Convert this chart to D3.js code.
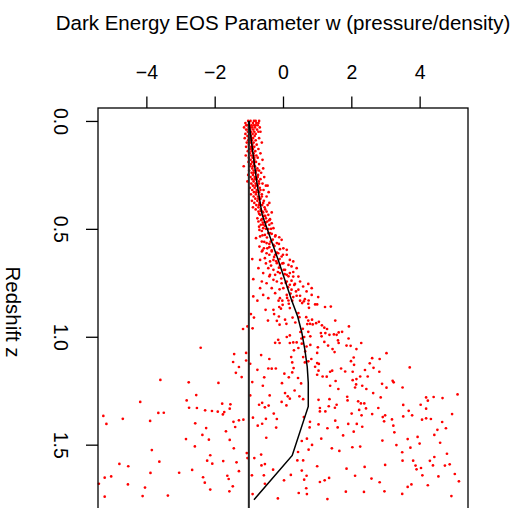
<!DOCTYPE html>
<html>
<head>
<meta charset="utf-8">
<script src="https://cdn.jsdelivr.net/npm/d3@7"></script>
<style>
  html, body { margin: 0; padding: 0; background: #fff; }
  svg { display: block; font-family: "Liberation Sans", Arial, Helvetica, sans-serif; }
</style>
</head>
<body>
<svg id="chart" width="520" height="508"></svg>
<script>
// Axis ticks
const wTicks = [-4, -2, 0, 2, 4];
const zTicks = [0, 0.5, 1.0, 1.5];

// Fitted w(z) trend, [redshift, w]
const trendZ = [0, 0.125, 0.28, 0.435, 0.64, 0.83, 0.906, 0.98, 1.06, 1.14, 1.213, 1.323, 1.55, 1.755];
const trendW = [-1, -0.90, -0.77, -0.61, -0.15, 0.25, 0.43, 0.55, 0.64, 0.71, 0.74, 0.74, 0.27, -0.85];

// Cosmological-constant reference w = -1, spanning the sampled redshifts
const lambdaW = -1;
const lambdaZ = [0, 1.9];

// Sampled models, [redshift z, w]
const samplesNear = [
  [0.00,-1.02],[0.00,-0.95],[0.01,-1.10],[0.01,-0.88],[0.01,-0.78],[0.00,-0.70],[0.02,-1.05],[0.02,-0.98],[0.02,-0.92],[0.02,-0.85],
  [0.02,-0.74],[0.03,-1.14],[0.03,-1.00],[0.03,-0.90],[0.03,-0.82],[0.03,-0.68],[0.04,-1.08],[0.04,-0.96],[0.04,-0.87],[0.04,-0.76],
  [0.05,-1.03],[0.05,-0.93],[0.05,-0.84],[0.05,-0.72],[0.06,-1.10],[0.06,-0.98],[0.06,-0.89],[0.06,-0.80],[0.01,-0.99],[0.04,-1.01],
  [0.03,-0.95],[0.05,-0.66],[0.00,-0.85],[0.02,-0.80],
  [0.07,-1.04],[0.07,-0.94],[0.07,-0.83],[0.08,-1.12],[0.08,-0.99],[0.08,-0.88],[0.08,-0.70],[0.09,-1.02],[0.09,-0.91],[0.09,-0.80],
  [0.10,-1.06],[0.10,-0.96],[0.10,-0.86],[0.10,-0.62],[0.11,-1.00],[0.11,-0.90],[0.11,-0.77],[0.12,-1.08],[0.12,-0.94],[0.12,-0.84],
  [0.13,-0.99],[0.13,-0.88],[0.13,-0.72],[0.14,-1.03],[0.14,-0.92],[0.14,-0.81],[0.15,-0.97],[0.15,-0.86],[0.15,-0.66],[0.16,-1.09],
  [0.16,-0.93],[0.16,-0.78],[0.17,-1.00],[0.17,-0.89],[0.17,-0.74],[0.18,-0.95],[0.18,-0.84],[0.18,-0.60],[0.19,-1.01],[0.19,-0.90],
  [0.19,-0.79],[0.20,-0.94],[0.20,-0.85],[0.20,-0.70],
  [0.21,-1.15],[0.21,-0.96],[0.21,-0.82],[0.22,-0.90],[0.22,-0.75],[0.22,-0.58],[0.23,-0.99],[0.23,-0.86],[0.23,-0.70],[0.24,-0.92],
  [0.24,-0.80],[0.24,-0.64],[0.25,-1.02],[0.25,-0.88],[0.25,-0.73],[0.26,-0.95],[0.26,-0.83],[0.26,-0.55],[0.27,-0.90],[0.27,-0.77],
  [0.27,-0.66],[0.28,-1.04],[0.28,-0.86],[0.28,-0.71],[0.29,-0.93],[0.29,-0.80],[0.29,-0.60],[0.30,-0.88],[0.30,-0.74],[0.30,-0.50],
  [0.31,-0.97],[0.31,-0.83],[0.31,-0.68],[0.32,-0.90],[0.32,-0.77],[0.32,-0.57],[0.33,-0.85],[0.33,-0.70],[0.34,-0.94],[0.34,-0.79],
  [0.34,-0.62],[0.35,-0.86],[0.35,-0.73],[0.35,-0.48],[0.36,-0.81],[0.36,-0.66],[0.37,-0.91],[0.37,-0.75],[0.37,-0.56],[0.38,-0.84],
  [0.38,-0.69],[0.39,-0.78],[0.39,-0.61],[0.39,-0.45],[0.40,-0.88],[0.40,-0.72],[0.40,-0.54],[0.41,-0.80],[0.41,-0.65],[0.33,-0.42],
  [0.38,-0.40],[0.30,-0.45],
  [0.05,-0.96],[0.09,-0.96],[0.13,-0.94],[0.17,-0.84],[0.21,-0.88],[0.24,-0.86],[0.27,-0.82],[0.30,-0.80],[0.33,-0.78],[0.36,-0.72],
  [0.39,-0.70],[0.42,-0.60],[0.08,-0.92],[0.12,-0.89],[0.16,-0.86],[0.19,-0.84],[0.23,-0.78],[0.26,-0.74],[0.29,-0.70],[0.32,-0.66],
  [0.35,-0.62],[0.38,-0.58],[0.41,-0.52],[0.02,-1.08],[0.00,-0.80],[0.01,-0.72]
];

const samplesMid = [
  [0.420,-0.72],[0.417,-0.65],[0.424,-0.58],[0.420,-0.48],[0.424,-0.33],[0.435,-0.67],[0.440,-0.56],[0.435,-0.43],[0.451,-0.75],[0.455,-0.62],
  [0.451,-0.50],[0.455,-0.38],[0.466,-0.72],[0.471,-0.59],[0.466,-0.46],[0.474,-0.33],[0.481,-0.65],[0.486,-0.53],[0.481,-0.40],[0.497,-0.58],
  [0.501,-0.43],[0.497,-0.28],[0.505,-0.69],[0.543,-0.79],[0.535,-0.67],[0.528,-0.53],[0.520,-0.43],[0.523,-0.33],[0.535,-0.23],[0.539,-0.11],
  [0.551,-0.04],[0.559,-0.62],[0.566,-0.48],[0.559,-0.36],[0.574,-0.28],[0.566,-0.18],[0.582,-0.69],[0.590,-0.56],[0.585,-0.40],[0.594,-0.09],
  [0.590,0.01],[0.597,0.11],[0.605,-0.62],[0.613,-0.48],[0.605,-0.33],[0.620,-0.23],[0.613,-0.14],[0.628,-0.04],[0.620,0.11],[0.644,0.20],
  [0.651,0.30],[0.640,-0.90],[0.644,-0.67],[0.636,-0.53],[0.651,-0.38],[0.644,-0.28],[0.659,-0.18],[0.667,-0.09],[0.659,0.01],[0.667,0.16],
  [0.674,0.25],[0.682,0.40],[0.682,-0.72],[0.682,-0.43],[0.690,-0.28],[0.690,0.06],[0.705,-0.58],[0.713,-0.38],[0.713,-0.23],[0.705,-0.09],
  [0.713,0.11],[0.705,0.20],[0.721,0.30],[0.721,0.45],[0.733,-0.87],[0.744,-0.62],[0.752,-0.48],[0.736,-0.28],[0.744,-0.18],[0.752,-0.04],
  [0.744,0.11],[0.759,0.20],[0.755,0.35],[0.744,0.50],[0.767,0.59],[0.755,0.74],[0.775,0.84],[0.775,-0.67],[0.775,-0.33],[0.775,0.01],
  [0.782,0.25],[0.782,0.45],[0.790,0.69],[0.813,-0.87],[0.806,-0.58],[0.821,-0.43],[0.798,-0.23],[0.821,-0.09],[0.806,0.11],[0.816,0.30],
  [0.810,0.50],[0.826,0.64],[0.806,0.84],[0.816,1.03],
  [0.43,-0.70],[0.44,-0.52],[0.46,-0.64],[0.47,-0.50],[0.48,-0.58],[0.49,-0.70],[0.50,-0.50],[0.51,-0.62],[0.52,-0.38],[0.53,-0.60],
  [0.54,-0.47],[0.55,-0.30],[0.56,-0.55],[0.57,-0.40],[0.58,-0.25],[0.59,-0.46],[0.60,-0.33],[0.61,-0.18],[0.62,-0.40],[0.63,-0.26],
  [0.64,-0.10],[0.65,-0.20],[0.66,-0.02],[0.67,-0.35],[0.68,-0.12],[0.69,0.02],[0.70,-0.15],[0.71,0.05],[0.72,0.16],[0.73,-0.05],
  [0.74,0.25],[0.75,0.08],[0.76,0.33],[0.77,0.15],[0.78,-0.10],[0.79,0.38],[0.80,0.22],[0.81,0.40],[0.82,0.12],[0.46,-0.40],
  [0.50,-0.35],[0.53,-0.22],[0.57,-0.12],[0.62,0.00],[0.70,0.30],[0.66,-0.50],[0.72,-0.40],[0.60,-0.60],
  [0.833,-0.75],[0.833,-0.13],[0.833,-0.02],[0.832,0.16],[0.833,0.27],[0.833,0.50],[0.836,0.61],[0.832,0.75],[0.852,-0.01],[0.862,-0.11],
  [0.847,0.17],[0.844,0.56],[0.847,0.74],[0.850,1.00],[0.850,0.94],[0.862,1.23],[0.860,1.40],[0.875,-0.51],[0.875,-0.28],[0.870,-0.06],
  [0.867,0.20],[0.866,0.76],[0.895,-0.94],[0.911,-0.85],[0.895,-0.26],[0.906,-0.12],[0.921,0.06],[0.911,0.28],[0.890,0.45],[0.909,0.48],
  [0.909,0.68],[0.925,0.74],[0.921,0.85],[0.931,1.05],[0.937,0.97],[0.943,0.87],[0.947,1.14],[0.964,1.29],[0.958,1.21],[0.925,1.53],
  [0.926,-0.18],[0.925,-0.44],[0.940,0.10],[0.934,0.36],[0.944,-0.10],[0.941,0.71],[0.940,0.79],[0.952,1.93],[0.952,-1.04],[0.961,-0.89],
  [0.964,-1.17],[0.963,0.58],[0.978,0.51],[0.977,0.74],[0.983,1.11],[0.983,1.24],[0.991,1.36],[0.989,1.49],[0.980,1.63],[0.977,1.73],
  [0.991,1.57],[1.017,1.61],[1.029,1.63],[1.008,1.92],[0.994,0.20],[1.001,0.11],[1.008,0.54],[1.001,0.62],[0.998,0.80],[1.014,-0.14],
  [1.029,-0.10],[1.028,-0.23],[1.026,0.40],[1.029,0.20],[1.026,0.30],[1.032,0.55],[0.998,1.13],[1.024,1.21],[1.041,1.32],[1.038,0.80],
  [1.049,1.02],[1.052,0.45],[1.063,0.32],[1.045,0.69],[1.068,0.65],[1.075,1.00],[1.041,1.86],[1.057,1.45],[1.071,1.51]
];

const samplesFar = [
  [1.075,-1.08],[1.110,-1.08],[1.085,-0.64],[1.103,-0.40],[1.094,0.24],[1.094,0.59],[1.119,0.64],[1.114,0.74],[1.103,0.83],[1.122,1.00],
  [1.139,0.94],[1.126,1.05],[1.157,1.04],[1.176,1.00],[1.184,1.16],[1.185,1.28],[1.162,1.38],[1.157,1.44],[1.147,1.70],[1.161,1.82],
  [1.187,-1.21],[1.125,-0.96],[1.210,-0.90],[1.153,-0.75],[1.147,-0.43],[1.148,-0.33],[1.147,-0.21],[1.227,-0.59],[1.188,-0.55],[1.215,-0.03],
  [1.171,0.04],[1.188,0.17],[1.165,0.27],[1.145,0.31],[1.119,0.27],[1.191,0.44],[1.216,0.53],[1.261,0.06],[1.276,0.14],[1.287,0.20],
  [1.276,0.48],[1.289,0.59],[1.249,0.34],[1.292,1.04],[1.289,1.36],[1.227,1.38],[1.205,1.54],[1.242,1.62],[1.278,1.88],[1.295,1.89],
  [1.272,-0.96],[1.315,-0.70],[1.306,-0.61],[1.327,-0.53],[1.319,-0.42],[1.272,-0.39],[1.302,-0.04],[1.318,0.10],[1.330,1.08],[1.346,1.08],
  [1.346,1.24],[1.322,1.34],[1.329,1.52],[1.315,1.57],[1.356,-0.27],[1.375,-0.88],[1.380,-0.50],[1.381,-0.18],[1.384,-1.16],[1.412,-0.74],
  [1.403,-0.61],[1.421,-0.20],[1.372,0.61],[1.394,0.79],[1.420,0.78],[1.406,1.04],[1.389,1.53],[1.424,1.30],[1.420,1.60],[1.404,1.91],
  [1.457,1.76],[1.472,0.70],[1.483,0.55],[1.501,0.85],[1.472,1.12],[1.517,1.43],[1.529,1.65],[1.468,-0.49],[1.539,-1.06],[1.562,-1.04],
  [1.562,-0.84],[1.546,-0.64],[1.523,0.75],[1.534,0.44],[1.573,0.59],[1.573,0.42],[1.596,-0.63],[1.590,-0.53],[1.616,-0.29],[1.620,0.55],
  [1.644,0.69],[1.662,0.62],[1.600,1.00],[1.642,-0.91],[1.642,-0.56],[1.681,-0.53],[1.640,0.23],[1.665,0.03],[1.673,1.08],[1.665,1.22],
  [1.654,1.35],[1.611,1.86],[1.729,-0.89],[1.724,0.46],[1.702,0.68],[1.729,0.70],[1.749,-0.15],[1.752,1.30],[1.718,1.84],
  [1.029,2.29],[1.042,1.98],[1.057,2.15],[1.096,2.07],[1.113,1.99],[1.076,3.03],[1.099,2.61],[1.103,2.83],[1.130,2.08],[1.123,2.54],
  [1.144,2.65],[1.154,2.40],[1.162,2.04],[1.162,2.82],[1.142,3.71],[1.184,2.26],[1.184,2.48],[1.196,2.15],[1.201,2.04],[1.204,3.21],
  [1.211,3.24],[1.221,2.14],[1.227,2.32],[1.235,2.11],[1.242,2.44],[1.218,2.90],[1.236,3.03],[1.235,3.50],[1.261,2.64],[1.281,2.86],
  [1.299,2.20],[1.309,2.28],[1.309,2.38],[1.339,2.23],[1.332,2.43],[1.330,2.79],[1.316,3.52],[1.315,4.03],[1.281,4.19],[1.279,4.41],
  [1.284,4.67],[1.296,4.24],[1.267,5.11],[1.333,4.19],[1.343,3.68],[1.356,2.01],[1.364,2.30],[1.358,2.61],[1.364,2.99],[1.372,2.92],
  [1.392,2.96],[1.369,3.52],[1.364,3.78],[1.384,4.07],[1.378,4.19],[1.381,4.33],[1.358,4.95],[1.383,3.19],[1.404,2.16],[1.417,2.32],
  [1.412,3.23],[1.443,3.26],[1.440,2.07],[1.395,4.66],[1.431,4.52],[1.424,4.77],[1.455,4.43],[1.464,3.94],[1.491,4.60],[1.474,3.65],
  [1.495,4.00],[1.481,2.91],[1.502,3.32],[1.514,3.73],[1.512,2.03],[1.509,2.26],[1.535,3.49],[1.542,4.80],[1.557,4.43],[1.575,4.30],
  [1.574,3.81],[1.574,3.50],[1.597,3.88],[1.608,4.04],[1.614,3.91],[1.596,4.39],[1.597,4.74],[1.591,4.88],[1.636,5.03],[1.670,5.15],
  [1.647,4.55],[1.642,4.08],[1.603,2.39],[1.594,2.99],[1.644,2.11],[1.657,2.59],[1.674,2.83],[1.716,2.97],[1.719,2.37],[1.684,3.76],
  [1.696,3.65],[1.728,3.49],[1.688,4.24],[1.738,4.93],
  [1.051,-2.41],[1.080,-1.43],[1.117,-1.46],[1.140,-1.29],[1.167,-1.38],[1.200,-3.59],[1.211,-2.76],[1.214,-1.89],[1.270,-2.54],[1.302,-4.18],
  [1.295,-2.82],[1.310,-1.78],[1.313,-1.54],[1.329,-2.75],[1.330,-2.52],[1.333,-1.56],[1.341,-2.28],[1.344,-2.08],[1.347,-1.91],[1.349,-1.72],
  [1.360,-1.76],[1.353,-3.65],[1.352,-3.49],[1.367,-5.26],[1.380,-4.69],[1.390,-3.89],[1.404,-5.17],[1.401,-2.57],[1.394,-1.45],[1.387,-1.29],
  [1.418,-1.40],[1.423,-2.25],[1.438,-1.67],[1.455,-2.36],[1.474,-2.84],[1.477,-2.17],[1.478,-1.56],[1.508,-2.58],[1.517,-1.44],[1.525,-3.84],
  [1.549,-2.13],[1.574,-2.22],[1.579,-3.62],[1.588,-2.07],[1.576,-1.75],[1.582,-1.36],[1.589,-4.79],[1.600,-4.53],[1.631,-3.88],[1.630,-3.04],
  [1.617,-2.66],[1.623,-1.29],[1.653,-5.22],[1.647,-5.03],[1.644,-1.63],[1.651,-2.34],[1.659,-1.59],[1.676,-2.29],[1.681,-5.39],[1.684,-4.54],
  [1.699,-4.04],[1.693,-1.47],[1.708,-2.13],[1.716,-1.57],[1.741,-5.22],[1.738,-4.11],[1.736,-3.37]
];

const samples = samplesNear.concat(samplesMid, samplesFar);

const svg = d3.select("#chart");
const plot = { left: 98, right: 468, top: 108, bottom: 531 };

// w runs across, redshift runs downward
const x = d3.scaleLinear().domain([-5.416, 5.416]).range([plot.left, plot.right]);
const y = d3.scaleLinear().domain([-0.06, 1.9]).range([plot.top, plot.bottom]);

const minusFmt = d => d < 0 ? "\u2212" + Math.abs(d) : String(d);

// scatter of sampled models
svg.append("g")
  .selectAll("circle")
  .data(samples)
  .join("circle")
  .attr("cx", d => x(d[1]))
  .attr("cy", d => y(d[0]))
  .attr("r", 1.35)
  .attr("fill", "#ff0000");

// w = -1 reference
svg.append("line")
  .attr("x1", x(lambdaW)).attr("x2", x(lambdaW))
  .attr("y1", y(lambdaZ[0])).attr("y2", y(lambdaZ[1]))
  .attr("stroke", "#262626")
  .attr("stroke-width", 2);

// fitted trend
const trend = d3.line().x(d => x(d[1])).y(d => y(d[0]));
svg.append("path")
  .datum(trendZ.map((z, i) => [z, trendW[i]]))
  .attr("d", trend)
  .attr("fill", "none")
  .attr("stroke", "#000")
  .attr("stroke-width", 1.5);

// frame
svg.append("rect")
  .attr("x", plot.left).attr("y", plot.top)
  .attr("width", plot.right - plot.left).attr("height", plot.bottom - plot.top)
  .attr("fill", "none").attr("stroke", "#000").attr("stroke-width", 1.3);

// top axis (w)
const topAxis = svg.append("g")
  .attr("transform", `translate(0,${plot.top})`)
  .call(d3.axisTop(x).tickValues(wTicks).tickFormat(minusFmt).tickSize(11.5).tickPadding(17.5));
topAxis.select(".domain").remove();
topAxis.selectAll("line").attr("stroke", "#000").attr("stroke-width", 1.3);
topAxis.selectAll("text")
  .attr("font-size", 19.5)
  .attr("font-family", "Liberation Sans, Arial, sans-serif")
  .attr("fill", "#000");

// left axis (redshift), labels reading downward
const leftAxis = svg.append("g")
  .attr("transform", `translate(${plot.left},0)`)
  .call(d3.axisLeft(y).tickValues(zTicks).tickFormat(d3.format(".1f")).tickSize(12));
leftAxis.select(".domain").remove();
leftAxis.selectAll("line").attr("stroke", "#000").attr("stroke-width", 1.3);
leftAxis.selectAll("text")
  .attr("x", null).attr("dy", null)
  .attr("text-anchor", "middle")
  .attr("transform", "translate(-44.5,0) rotate(90)")
  .attr("font-size", 19.5)
  .attr("font-family", "Liberation Sans, Arial, sans-serif")
  .attr("fill", "#000");

// axis titles
svg.append("text")
  .attr("x", (plot.left + plot.right) / 2)
  .attr("y", 30)
  .attr("text-anchor", "middle")
  .attr("font-size", 20.5)
  .text("Dark Energy EOS Parameter w (pressure/density)");

svg.append("text")
  .attr("transform", `translate(5.5,${(plot.top + plot.bottom) / 2 - 7.5}) rotate(90)`)
  .attr("text-anchor", "middle")
  .attr("font-size", 20.5)
  .text("Redshift z");
</script>
</body>
</html>
